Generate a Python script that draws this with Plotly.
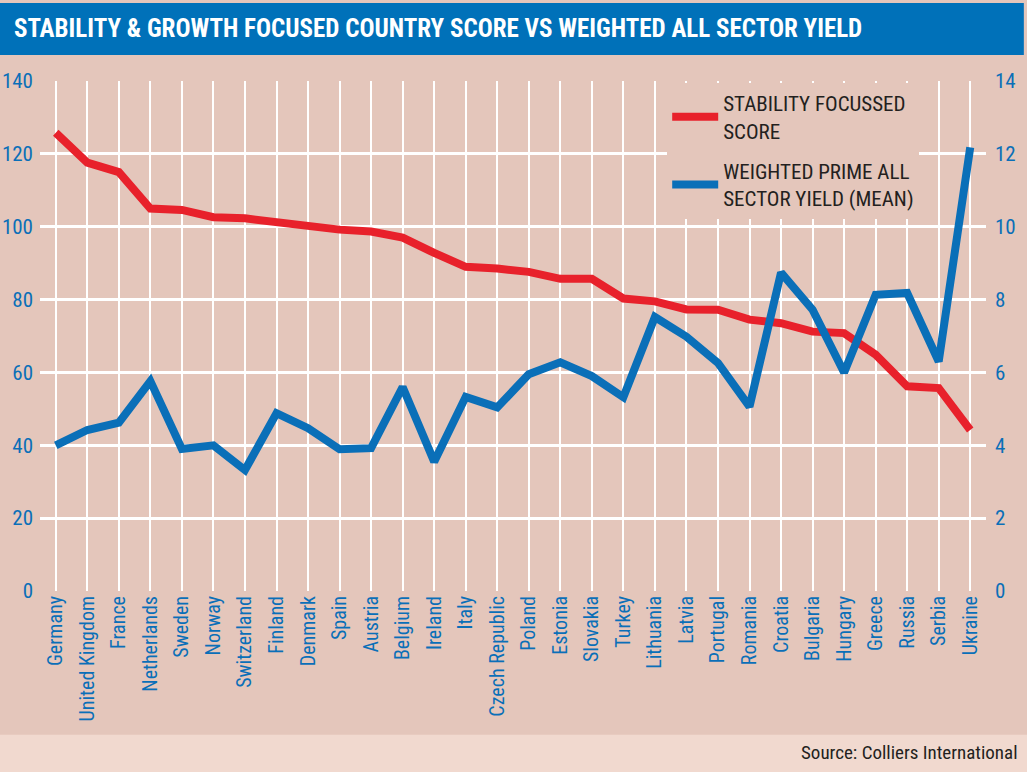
import plotly.graph_objects as go

countries = ["Germany", "United Kingdom", "France", "Netherlands", "Sweden", "Norway",
             "Switzerland", "Finland", "Denmark", "Spain", "Austria", "Belgium", "Ireland",
             "Italy", "Czech Republic", "Poland", "Estonia", "Slovakia", "Turkey", "Lithuania",
             "Latvia", "Portugal", "Romania", "Croatia", "Bulgaria", "Hungary", "Greece",
             "Russia", "Serbia", "Ukraine"]

stability_score = [125.8, 117.6, 115.0, 105.0, 104.6, 102.6, 102.3, 101.2, 100.5, 99.2,
                   98.7, 97.0, 92.8, 89.0, 88.5, 87.6, 85.7, 85.7, 80.3, 79.5,
                   77.3, 77.2, 74.5, 73.5, 71.2, 70.8, 64.9, 56.2, 55.7, 44.2]

prime_yield = [4.0, 4.42, 4.62, 5.76, 3.9, 4.0, 3.32, 4.88, 4.47, 3.89,
               3.92, 5.6, 3.55, 5.33, 5.04, 5.95, 6.28, 5.9, 5.32, 7.52,
               6.98, 6.26, 5.06, 8.74, 7.72, 6.0, 8.13, 8.18, 6.3, 12.18]

left_ticks = [0, 20, 40, 60, 80, 100, 120, 140]
right_ticks = [0, 2, 4, 6, 8, 10, 12, 14]

RED = "#e8212b"
BLUE = "#0a6fb8"
BG = "#e4c6bb"
BAND = "#f1d9cf"
FONT = "Roboto Condensed, DejaVu Sans Condensed, sans-serif"

fig = go.Figure()
fig.add_trace(go.Scatter(x=countries, y=stability_score, mode="lines",
                         name="STABILITY FOCUSSED<br>SCORE", legendgroup="a",
                         line=dict(color=RED, width=8)))
fig.add_trace(go.Scatter(x=countries, y=prime_yield, mode="lines",
                         name="WEIGHTED PRIME ALL<br>SECTOR YIELD (MEAN)", legendgroup="b",
                         line=dict(color=BLUE, width=8), yaxis="y2"))

fig.update_layout(
    width=1027, height=772,
    margin=dict(l=40, r=41, t=81, b=181),
    paper_bgcolor=BG, plot_bgcolor=BG,
    font=dict(family=FONT, color=BLUE, size=20),
    showlegend=True,
    legend=dict(x=0.663, y=0.996, xanchor="left", yanchor="top",
                bgcolor=BG, font=dict(size=21, color="#231f20", family=FONT),
                tracegroupgap=10, traceorder="grouped", itemwidth=46),
    xaxis=dict(type="category", range=[-0.5, len(countries) - 0.5], automargin=False,
               showgrid=True, gridcolor="white", gridwidth=2,
               tickangle=-90, tickfont=dict(size=20, color=BLUE, family=FONT),
               ticks="", showline=False, zeroline=False),
    yaxis=dict(range=[0, 140], tickvals=left_ticks, showgrid=True, automargin=False,
               gridcolor="white", gridwidth=3, zeroline=False,
               tickfont=dict(size=21, color=BLUE, family=FONT), ticks="",
               ticklabelstandoff=6),
    yaxis2=dict(range=[0, 14], tickvals=right_ticks, overlaying="y", side="right",
                showgrid=False, zeroline=False, automargin=False,
                tickfont=dict(size=21, color=BLUE, family=FONT), ticks="",
                ticklabelstandoff=8),
    shapes=[
        dict(type="rect", xref="paper", yref="paper", x0=-0.05, x1=1.040,
             y0=1.051, y1=1.153, fillcolor="#0071b9", line=dict(width=0), layer="below"),
        dict(type="rect", xref="paper", yref="paper", x0=-0.05, x1=1.05,
             y0=-0.36, y1=-0.282, fillcolor=BAND, line=dict(width=0), layer="below"),
    ],
    annotations=[
        dict(text="<b>STABILITY & GROWTH FOCUSED COUNTRY SCORE VS WEIGHTED ALL SECTOR YIELD</b>",
             xref="paper", yref="paper", x=-0.0296, y=1.102, xanchor="left", yanchor="middle",
             showarrow=False, font=dict(size=25, color="white", family=FONT)),
        dict(text="Source: Colliers International", xref="paper", yref="paper",
             x=1.036, y=-0.316, xanchor="right", yanchor="middle", showarrow=False,
             font=dict(size=19, color="#231f20", family=FONT)),
    ],
)

fig.write_html("out.html", config={"displayModeBar": False},
               post_script="document.body.style.margin='0';document.body.style.background='#e4c6bb';")
